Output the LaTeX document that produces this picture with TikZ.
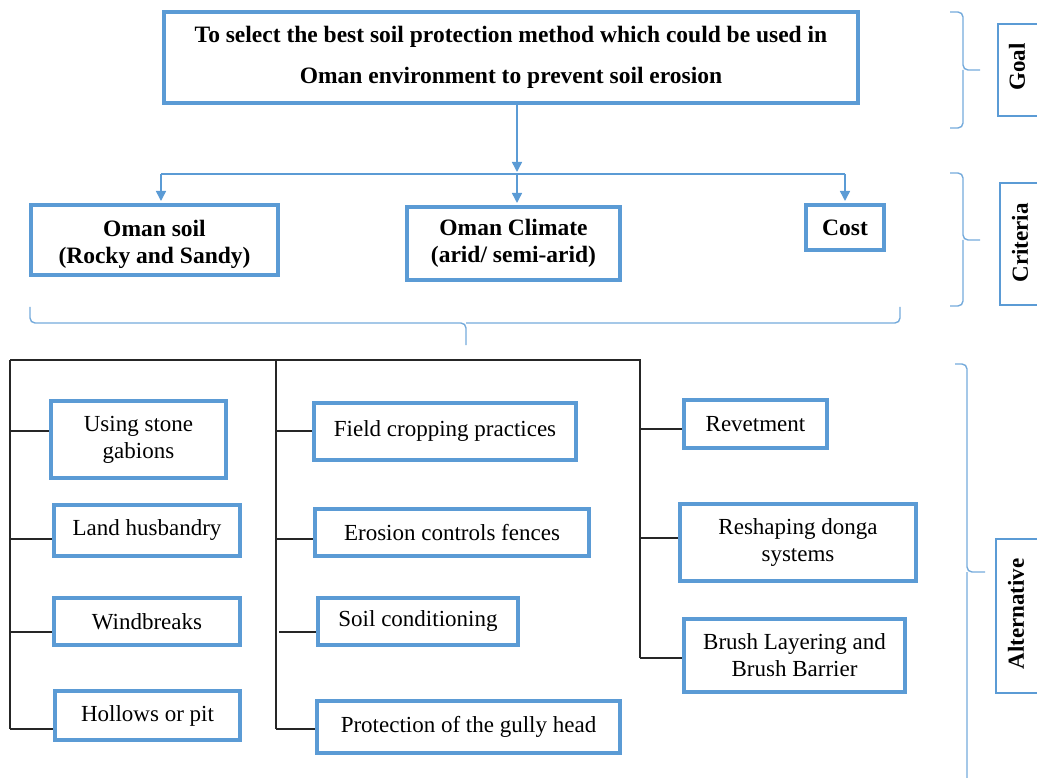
\documentclass[tikz,border=0pt]{standalone}
\usepackage{fontspec}
\setmainfont{Liberation Serif}
\usetikzlibrary{arrows.meta}
\definecolor{obl}{HTML}{5B9BD5}
\begin{document}
\begin{tikzpicture}[x=1pt,y=-1pt,
  box/.style={draw=obl, line width=4pt, inner sep=0pt, align=center,
    font=\fontsize{23}{27}\selectfont},
  crit/.style={box, font=\fontsize{23.5}{27}\selectfont\bfseries},
  crittext/.style={align=center, inner sep=0pt, font=\fontsize{23.5}{27}\selectfont\bfseries},
  lab/.style={draw=obl, line width=1.5pt},
  labtext/.style={rotate=90, font=\fontsize{23}{27}\selectfont\bfseries},
  tree/.style={line width=1.3pt, black!85},
  conn/.style={obl, line width=1.5pt},
  arr/.style={conn, -{Triangle[length=10pt,width=10pt]}, shorten >=2pt},
  brc/.style={obl!85, line width=1.4pt, rounded corners=5pt}]
\useasboundingbox (0,0) rectangle (1037,778);

% Goal
\node[box, minimum width=694pt, minimum height=91pt,
  font=\fontsize{23.5}{41}\selectfont\bfseries] (goal) at (511,57.5)
  {To select the best soil protection method which could be used in\\Oman environment to prevent soil erosion};

% Criteria
\node[crit, minimum width=247pt, minimum height=70pt,
  label={[crittext, yshift=-4pt]center:Oman soil\\(Rocky and Sandy)}] (soil) at (154.5,240) {};
\node[crit, minimum width=213pt, minimum height=73pt] (clim) at (513.5,243.5) {Oman Climate\\(arid/ semi-arid)};
\node[crit, minimum width=78pt, minimum height=45pt] (cost) at (845,227.5) {Cost};

\coordinate (hub) at (517,174);
\coordinate (hl) at (161,174);
\coordinate (hr) at (845,174);
\draw[arr] (hub |- goal.south) -- (hub);
\draw[conn] (hl) -- (hr);
\draw[arr] (hl) -- (hl |- soil.north);
\draw[arr] (hub) -- (hub |- clim.north);
\draw[arr] (hr) -- (hr |- cost.north);

% Alternatives
\node[box, minimum width=175pt, minimum height=77pt] (a1) at (138.5,439.5) {Using stone\\gabions};
\node[box, minimum width=186pt, minimum height=51pt] (a2) at (147,530) {Land husbandry};
\node[box, minimum width=186pt, minimum height=47pt] (a3) at (147,621.5) {Windbreaks};
\node[box, minimum width=185pt, minimum height=49pt] (a4) at (147.5,715.5) {Hollows or pit};

\node[box, minimum width=262pt, minimum height=57pt] (m1) at (445,431.5) {Field cropping practices};
\node[box, minimum width=274pt, minimum height=47pt] (m2) at (452,532.5) {Erosion controls fences};
\node[box, minimum width=200pt, minimum height=47pt] (m3) at (418,621.5) {Soil conditioning};
\node[box, minimum width=303pt, minimum height=52pt] (m4) at (468.5,727) {Protection of the gully head};

\node[box, minimum width=143pt, minimum height=48pt] (r1) at (755.5,424) {Revetment};
\node[box, minimum width=236pt, minimum height=77pt] (r2) at (798,542.5) {Reshaping donga\\systems};
\node[box, minimum width=221pt, minimum height=73pt] (r3) at (794.5,655.5) {Brush Layering and\\Brush Barrier};

% tree
\coordinate (t0) at (10,360);
\coordinate (t1) at (276,360);
\coordinate (t2) at (640,360);
\coordinate (l1) at (10,431);
\coordinate (l2) at (10,539);
\coordinate (l3) at (10,632);
\coordinate (l4) at (10,729);
\coordinate (c1) at (276,431);
\coordinate (c2) at (276,539);
\coordinate (c3) at (279,632);
\coordinate (c4) at (276,729);
\coordinate (k1) at (640,429);
\coordinate (k2) at (640,538);
\coordinate (k3) at (640,658);
\draw[tree] (t0) -- (t2) -- (k3);
\draw[tree] (t0) -- (l4);
\draw[tree] (t1) -- (c4);
\draw[tree] (l1) -- (l1 -| a1.west);
\draw[tree] (l2) -- (l2 -| a2.west);
\draw[tree] (l3) -- (l3 -| a3.west);
\draw[tree] (l4) -- (l4 -| a4.west);
\draw[tree] (c1) -- (c1 -| m1.west);
\draw[tree] (c2) -- (c2 -| m2.west);
\draw[tree] (c3) -- (c3 -| m3.west);
\draw[tree] (c4) -- (c4 -| m4.west);
\draw[tree] (k1) -- (k1 -| r1.west);
\draw[tree] (k2) -- (k2 -| r2.west);
\draw[tree] (k3) -- (k3 -| r3.west);

% bottom brace under criteria
\draw[brc] (30,307) -- (30,323) -- (466,323) -- (466,345);
\draw[brc] (900,307) -- (900,323) -- (466,323);

% right braces
\draw[brc] (950,12) -- (963,12) -- (963,70) -- (980,70);
\draw[brc] (950,128) -- (963,128) -- (963,70);
\draw[brc] (950,173) -- (963,173) -- (963,240) -- (980,240);
\draw[brc] (950,306) -- (963,306) -- (963,240);
\draw[brc] (955,364) -- (967,364) -- (967,572) -- (985,572);
\draw[brc] (955,790) -- (967,790) -- (967,572);

% level labels
\draw[lab] (998,24) rectangle (1050,116);
\node[labtext] (lgoal) at (1017,67) {Goal};
\draw[lab] (1000,183) rectangle (1050,305);
\node[labtext] (lcrit) at (1020,243) {Criteria};
\draw[lab] (996,539) rectangle (1050,693);
\node[labtext] (lalt) at (1016,614) {Alternative};
\end{tikzpicture}
\end{document}
